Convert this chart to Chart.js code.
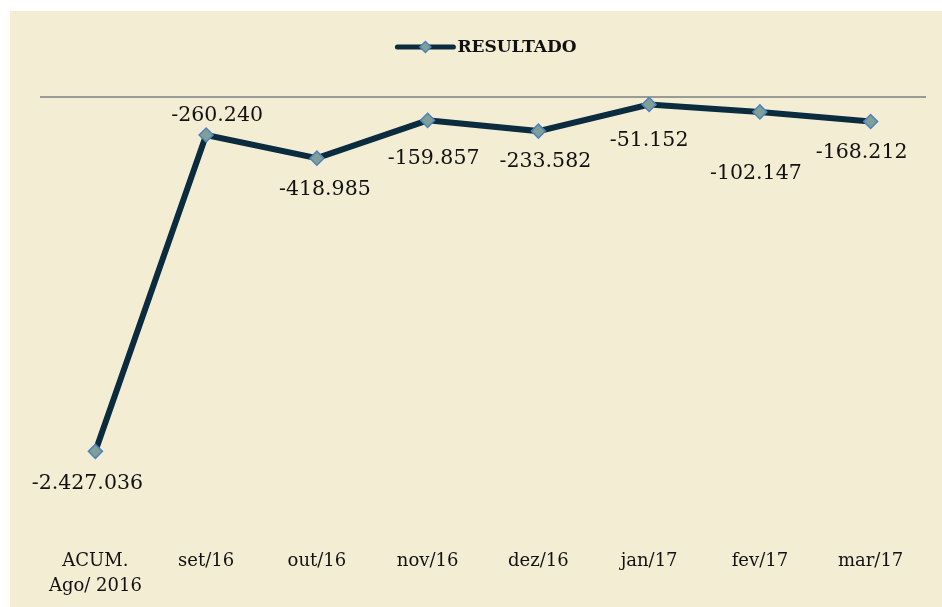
<!DOCTYPE html>
<html>
<head>
<meta charset="utf-8">
<script src="https://cdn.jsdelivr.net/npm/chart.js@4.4.1/dist/chart.umd.min.js"></script>
<style>
  html, body { margin: 0; padding: 0; background: #ffffff; }
  #wrap { position: absolute; left: 10px; top: 11px; width: 932px; height: 596px; background: #F3EDD3; }
</style>
</head>
<body>
<div id="wrap"><canvas id="chart" width="932" height="596"></canvas></div>
<script>
// chart data
const categories = [['ACUM.', 'Ago/ 2016'], 'set/16', 'out/16', 'nov/16', 'dez/16', 'jan/17', 'fev/17', 'mar/17'];
const resultado = [-2427036, -260240, -418985, -159857, -233582, -51152, -102147, -168212];
const seriesName = 'RESULTADO';
const yMin = -3000000;
const yMax = 0;

// label placement (dx, dy relative to point)
const labelOffsets = [[-8, 32], [11, -19], [8, 32], [6, 38], [7, 31], [0, 36], [-4, 62], [-9, 31]];

const LINE_COLOR = '#0B2B3F';
const FONT = '"DejaVu Serif", serif';

function fmtPt(v) {
  const s = Math.abs(v).toString().replace(/\B(?=(\d{3})+(?!\d))/g, '.');
  return (v < 0 ? '-' : '') + s;
}

const labelsPlugin = {
  id: 'pointLabels',
  afterDatasetsDraw(chart) {
    const ctx = chart.ctx;
    const meta = chart.getDatasetMeta(0);
    ctx.save();
    ctx.font = '20.5px ' + FONT;
    ctx.fillStyle = '#111111';
    ctx.textAlign = 'center';
    ctx.textBaseline = 'middle';
    meta.data.forEach((pt, i) => {
      const off = labelOffsets[i];
      ctx.fillText(fmtPt(resultado[i]), pt.x + off[0], pt.y + off[1]);
    });
    ctx.restore();
  }
};

const legendPlugin = {
  id: 'customLegend',
  afterDraw(chart) {
    const ctx = chart.ctx;
    ctx.save();
    ctx.font = 'bold 17px ' + FONT;
    const tw = ctx.measureText(seriesName).width;
    const lineW = 56, gap = 4;
    const total = lineW + gap + tw;
    const cx = (chart.chartArea.left + chart.chartArea.right) / 2 + 4;
    const x0 = cx - total / 2;
    const y = 36;
    ctx.strokeStyle = LINE_COLOR;
    ctx.lineWidth = 5;
    ctx.lineCap = 'round';
    ctx.beginPath();
    ctx.moveTo(x0, y);
    ctx.lineTo(x0 + lineW, y);
    ctx.stroke();
    const mx = x0 + lineW / 2, r = 5.5;
    ctx.beginPath();
    ctx.moveTo(mx, y - r); ctx.lineTo(mx + r, y); ctx.lineTo(mx, y + r); ctx.lineTo(mx - r, y); ctx.closePath();
    ctx.fillStyle = '#7FA097';
    ctx.fill();
    ctx.strokeStyle = '#4F81BD';
    ctx.lineWidth = 1.5;
    ctx.stroke();
    ctx.fillStyle = '#111111';
    ctx.textAlign = 'left';
    ctx.textBaseline = 'middle';
    ctx.fillText(seriesName, x0 + lineW + gap, y + 1);
    ctx.restore();
  }
};

new Chart(document.getElementById('chart').getContext('2d'), {
  type: 'line',
  data: {
    labels: categories,
    datasets: [{
      label: seriesName,
      data: resultado,
      borderColor: LINE_COLOR,
      borderWidth: 6,
      tension: 0,
      pointStyle: 'rectRot',
      pointRadius: 7,
      pointHoverRadius: 7,
      pointBackgroundColor: '#7FA097',
      pointBorderColor: '#4F81BD',
      pointBorderWidth: 1.5,
      fill: false
    }]
  },
  options: {
    responsive: false,
    animation: false,
    events: [],
    layout: { padding: { top: 86, left: 30, right: 16, bottom: 10 } },
    plugins: {
      legend: { display: false },
      tooltip: { enabled: false }
    },
    scales: {
      x: {
        offset: true,
        grid: { display: false, drawTicks: false },
        border: { display: false },
        ticks: {
          color: '#111111',
          font: { family: FONT, size: 18, lineHeight: 1.4 },
          padding: 14,
          maxRotation: 0,
          autoSkip: false
        },
        afterFit(scale) { scale.height = 62; }
      },
      y: {
        min: yMin,
        max: yMax,
        ticks: { display: false, stepSize: 500000 },
        border: { display: false },
        grid: {
          drawTicks: false,
          lineWidth: 2,
          color: ctx => (ctx.tick && ctx.tick.value === 0 ? '#9A9A96' : 'rgba(0,0,0,0)')
        },
        afterFit(scale) { scale.width = 0; }
      }
    }
  },
  plugins: [labelsPlugin, legendPlugin]
});
</script>
</body>
</html>
